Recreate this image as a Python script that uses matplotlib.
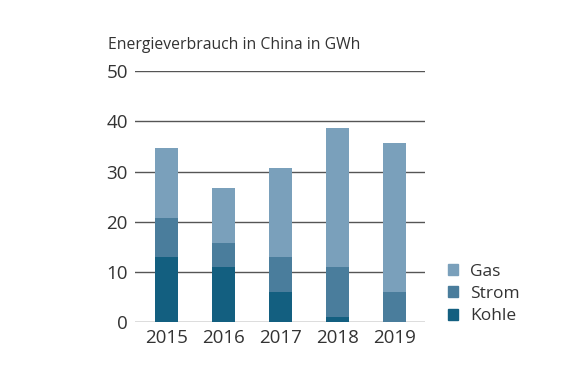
import matplotlib.pyplot as plt
from matplotlib.patches import Patch

plt.rcParams['font.family'] = ['Open Sans', 'DejaVu Sans']

years = ["2015", "2016", "2017", "2018", "2019"]
kohle = [13, 11, 6, 1, 0]
strom = [7.8, 4.8, 7, 10, 6]
gas = [13.8, 10.9, 17.8, 27.6, 29.6]

c_kohle = "#135f80"
c_strom = "#4a7d9c"
c_gas = "#7aa0bb"
text_color = "#333333"

fig = plt.figure(figsize=(5.62, 3.76), dpi=100)
ax = fig.add_axes([0.240, 0.1436, 0.516, 0.667])

x = range(len(years))
bottom_gas = [k + s for k, s in zip(kohle, strom)]
ax.bar(x, kohle, width=0.41, color=c_kohle, zorder=3)
ax.bar(x, strom, width=0.41, bottom=kohle, color=c_strom, zorder=3)
ax.bar(x, gas, width=0.41, bottom=bottom_gas, color=c_gas, zorder=3)

ax.set_xlim(-0.55, 4.53)
ax.set_ylim(0, 50)
ax.set_yticks([0, 10, 20, 30, 40, 50])
ax.set_xticks(list(x))
ax.set_xticklabels(years)
ax.yaxis.grid(True, color="#555555", linewidth=1.0, zorder=0)
ax.set_axisbelow(True)
for s in ax.spines.values():
    s.set_visible(False)
ax.tick_params(length=0, labelsize=13.5, colors=text_color)
ax.tick_params(axis="y", pad=5)
ax.tick_params(axis="x", pad=5)

fig.text(108 / 562, 1 - 45 / 376, "Energieverbrauch in China in GWh",
         fontsize=11.3, color=text_color, va="center", ha="left")

handles = [Patch(color=c_gas), Patch(color=c_strom), Patch(color=c_kohle)]
fig.legend(handles, ["Gas", "Strom", "Kohle"], loc="center left",
           bbox_to_anchor=(432 / 562, 1 - 294 / 376), frameon=False,
           fontsize=12.5, handlelength=0.6, handleheight=0.6,
           handletextpad=0.7, labelspacing=0.36, labelcolor=text_color)

fig.savefig("out.png", dpi=100)
